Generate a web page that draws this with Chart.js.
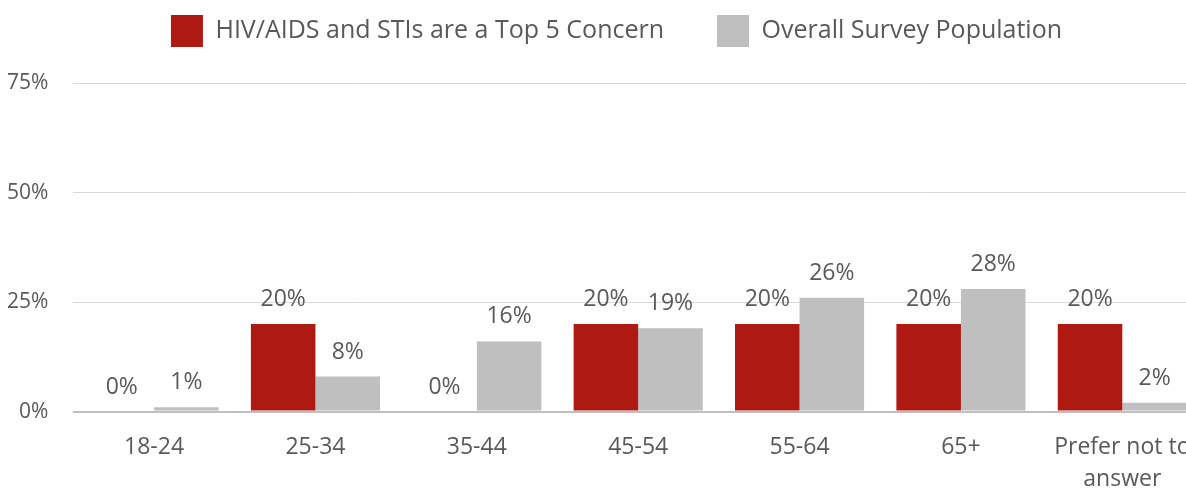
<!DOCTYPE html>
<html>
<head>
<meta charset="utf-8">
<script src="https://cdn.jsdelivr.net/npm/chart.js@4"></script>
<style>
  html, body { margin: 0; padding: 0; background: #fff; overflow: hidden; }
  #wrap { width: 1218px; height: 489px; }
</style>
</head>
<body>
<div id="wrap"><canvas id="ageChart" width="1218" height="489"></canvas></div>
<script>
// Data
const ageGroups = ['18-24', '25-34', '35-44', '45-54', '55-64', '65+', ['Prefer not to', 'answer']];
const hivConcern = [0, 20, 0, 20, 20, 20, 20];
const overallPop = [1, 8, 16, 19, 26, 28, 2];
const yTicks = [0, 25, 50, 75];

const FONT = "'Open Sans', 'Noto Sans', sans-serif";
Chart.defaults.font.family = FONT;
Chart.defaults.color = '#595959';

// value labels above bars
const valueLabels = {
    id: 'valueLabels',
    afterDatasetsDraw(chart) {
        const ctx = chart.ctx;
        ctx.save();
        ctx.font = '23px ' + FONT;
        ctx.fillStyle = '#595959';
        ctx.textAlign = 'center';
        ctx.textBaseline = 'alphabetic';
        chart.data.datasets.forEach((ds, i) => {
            chart.getDatasetMeta(i).data.forEach((bar, j) => {
                ctx.fillText(ds.data[j] + '%', bar.x, bar.y - 18);
            });
        });
        ctx.restore();
    }
};

// extra space under the legend, and nudge it right a bit
const legendGap = {
    id: 'legendGap',
    afterInit(chart) {
        const lg = chart.legend;
        const fit = lg.fit;
        lg.fit = function () { fit.call(this); this.height += 26; };
    },
    afterLayout(chart) {
        chart.legend.left += 48;
    }
};

new Chart(document.getElementById('ageChart').getContext('2d'), {
    type: 'bar',
    data: {
        labels: ageGroups,
        datasets: [
            {
                label: 'HIV/AIDS and STIs are a Top 5 Concern',
                data: hivConcern,
                backgroundColor: '#ae1a12',
                barPercentage: 1,
                categoryPercentage: 0.8
            },
            {
                label: 'Overall Survey Population',
                data: overallPop,
                backgroundColor: '#bfbfbf',
                barPercentage: 1,
                categoryPercentage: 0.8
            }
        ]
    },
    options: {
        responsive: false,
        animation: false,
        layout: { padding: { left: -18, right: 15, top: -38, bottom: -19 } },
        plugins: {
            legend: {
                position: 'top',
                labels: {
                    boxWidth: 32,
                    boxHeight: 32,
                    padding: 53,
                    font: { size: 25 },
                    color: '#595959'
                }
            },
            tooltip: { enabled: false }
        },
        scales: {
            x: {
                grid: { display: false },
                border: { display: false },
                ticks: { font: { size: 23, lineHeight: 1.4 }, color: '#595959', padding: 12, maxRotation: 0 }
            },
            y: {
                min: 0,
                max: 75,
                afterBuildTicks: (axis) => { axis.ticks = yTicks.map(v => ({ value: v })); },
                grid: {
                    drawTicks: false,
                    color: (c) => c.tick && c.tick.value === 0 ? '#bfbfbf' : '#d9d9d9',
                    lineWidth: (c) => c.tick && c.tick.value === 0 ? 2 : 1
                },
                border: { display: false },
                ticks: {
                    font: { size: 21 },
                    color: '#595959',
                    padding: 25,
                    callback: (v) => v + '%'
                }
            }
        }
    },
    plugins: [valueLabels, legendGap]
});
</script>
</body>
</html>
